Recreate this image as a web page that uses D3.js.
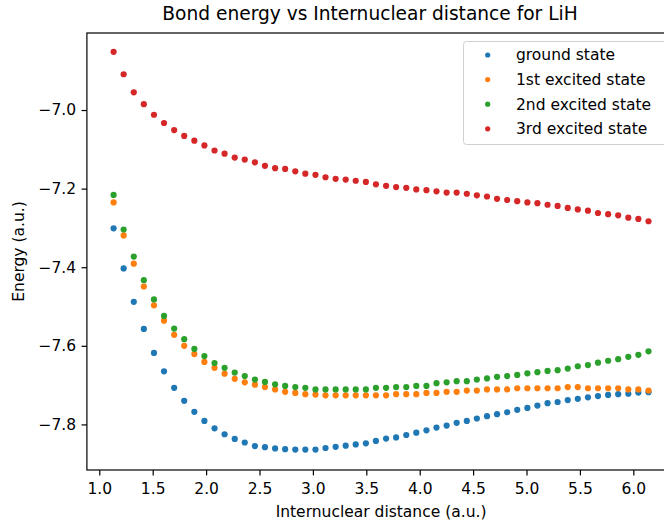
<!DOCTYPE html>
<html>
<head>
    <meta charset="utf-8">
    <title>Bond energy vs Internuclear distance for LiH</title>
    <script src="https://d3js.org/d3.v7.min.js"></script>
    <style>
        body { margin: 0; background: white; }
        svg { display: block; }
        text { font-family: 'DejaVu Sans', sans-serif; fill: #000; }
        .tick text { font-size: 15.5px; }
        .tick line { stroke: #000; stroke-width: 1.2px; }
        .domain { display: none; }
    </style>
</head>
<body>
    <svg width="664" height="526"></svg>
    <script>
        // internuclear distance (a.u.)
        const distance = [1.134, 1.228, 1.323, 1.417, 1.512, 1.606, 1.701, 1.795, 1.890, 1.984,
            2.079, 2.173, 2.268, 2.362, 2.457, 2.551, 2.646, 2.740, 2.835, 2.929,
            3.024, 3.118, 3.213, 3.307, 3.401, 3.496, 3.590, 3.685, 3.779, 3.874,
            3.968, 4.063, 4.157, 4.252, 4.346, 4.441, 4.535, 4.630, 4.724, 4.819,
            4.913, 5.008, 5.102, 5.197, 5.291, 5.386, 5.480, 5.575, 5.669, 5.764,
            5.858, 5.953, 6.047, 6.142];

        const ground = [-7.301, -7.403, -7.488, -7.557, -7.618, -7.665, -7.707, -7.740, -7.768, -7.791,
            -7.810, -7.825, -7.837, -7.846, -7.855, -7.858, -7.861, -7.863, -7.864, -7.864,
            -7.864, -7.860, -7.857, -7.854, -7.851, -7.848, -7.842, -7.836, -7.833, -7.827,
            -7.821, -7.815, -7.808, -7.803, -7.796, -7.791, -7.785, -7.779, -7.774, -7.769,
            -7.763, -7.758, -7.752, -7.746, -7.743, -7.738, -7.735, -7.731, -7.728, -7.725,
            -7.723, -7.722, -7.719, -7.718];

        const excited1 = [-7.235, -7.319, -7.391, -7.449, -7.497, -7.536, -7.572, -7.600, -7.621, -7.641,
            -7.656, -7.671, -7.684, -7.693, -7.699, -7.705, -7.711, -7.717, -7.720, -7.723,
            -7.724, -7.726, -7.726, -7.726, -7.726, -7.726, -7.726, -7.726, -7.723, -7.723,
            -7.723, -7.720, -7.720, -7.717, -7.717, -7.714, -7.714, -7.711, -7.711, -7.711,
            -7.708, -7.708, -7.708, -7.708, -7.708, -7.705, -7.705, -7.708, -7.708, -7.708,
            -7.708, -7.711, -7.711, -7.714];

        const excited2 = [-7.216, -7.304, -7.373, -7.433, -7.482, -7.524, -7.556, -7.583, -7.608, -7.626,
            -7.644, -7.656, -7.668, -7.677, -7.686, -7.692, -7.698, -7.702, -7.705, -7.707,
            -7.711, -7.711, -7.711, -7.711, -7.711, -7.711, -7.707, -7.707, -7.705, -7.705,
            -7.702, -7.702, -7.695, -7.693, -7.690, -7.690, -7.686, -7.683, -7.679, -7.677,
            -7.674, -7.670, -7.667, -7.664, -7.662, -7.658, -7.652, -7.649, -7.643, -7.638,
            -7.634, -7.628, -7.623, -7.614];

        const excited3 = [-6.852, -6.909, -6.955, -6.985, -7.012, -7.033, -7.051, -7.066, -7.078, -7.090,
            -7.103, -7.111, -7.121, -7.126, -7.133, -7.142, -7.148, -7.150, -7.156, -7.162,
            -7.165, -7.171, -7.175, -7.177, -7.180, -7.183, -7.189, -7.193, -7.196, -7.198,
            -7.202, -7.204, -7.207, -7.210, -7.210, -7.213, -7.217, -7.220, -7.226, -7.229,
            -7.232, -7.235, -7.237, -7.241, -7.244, -7.249, -7.253, -7.256, -7.262, -7.265,
            -7.268, -7.274, -7.277, -7.283];

        const seriesNames = ["ground state", "1st excited state", "2nd excited state", "3rd excited state"];
        const seriesValues = [ground, excited1, excited2, excited3];
        const colors = ["#1f77b4", "#ff7f0e", "#2ca02c", "#d62728"];
        const xTicks = [1.0, 1.5, 2.0, 2.5, 3.0, 3.5, 4.0, 4.5, 5.0, 5.5, 6.0];
        const yTicks = [-7.0, -7.2, -7.4, -7.6, -7.8];

        const svg = d3.select("svg");
        const plot = { left: 86.9, right: 675.2, top: 33, bottom: 470 };

        const x = d3.scaleLinear().domain([0.884, 6.392]).range([plot.left, plot.right]);
        const y = d3.scaleLinear().domain([-7.916, -6.804]).range([plot.bottom, plot.top]);

        const minus = s => s.replace("-", "\u2212");

        // axes
        svg.append("g")
            .attr("transform", `translate(0,${plot.bottom})`)
            .call(d3.axisBottom(x).tickValues(xTicks).tickFormat(d3.format(".1f"))
                .tickSize(5.4).tickPadding(5))
            .selectAll("text").attr("dy", "0.9em");

        svg.append("g")
            .attr("transform", `translate(${plot.left},0)`)
            .call(d3.axisLeft(y).tickValues(yTicks).tickFormat(d => minus(d3.format(".1f")(d)))
                .tickSize(5.4).tickPadding(5.4));

        // points
        seriesValues.forEach((vals, s) => {
            svg.append("g")
                .selectAll("circle")
                .data(vals)
                .enter().append("circle")
                .attr("cx", (d, i) => x(distance[i]))
                .attr("cy", d => y(d))
                .attr("r", 3.1)
                .attr("fill", colors[s]);
        });

        // frame
        svg.append("rect")
            .attr("x", plot.left)
            .attr("y", plot.top)
            .attr("width", plot.right - plot.left)
            .attr("height", plot.bottom - plot.top)
            .attr("fill", "none")
            .attr("stroke", "#000")
            .attr("stroke-width", 1.2);

        // legend
        const legend = svg.append("g");
        legend.append("rect")
            .attr("x", 463.5).attr("y", 41.5)
            .attr("width", 208).attr("height", 103)
            .attr("rx", 3)
            .attr("fill", "white").attr("fill-opacity", 0.8)
            .attr("stroke", "#d0d0d0").attr("stroke-width", 1);
        seriesNames.forEach((name, i) => {
            const cy = 55 + i * 24.6;
            legend.append("circle")
                .attr("cx", 487.7).attr("cy", cy).attr("r", 2.6)
                .attr("fill", colors[i]);
            legend.append("text")
                .attr("x", 516).attr("y", cy)
                .attr("dy", "0.35em")
                .style("font-size", "15.5px")
                .text(name);
        });

        // title and axis labels
        svg.append("text")
            .attr("x", 370).attr("y", 20)
            .attr("text-anchor", "middle")
            .style("font-size", "18.6px")
            .text("Bond energy vs Internuclear distance for LiH");

        svg.append("text")
            .attr("x", (plot.left + plot.right) / 2).attr("y", 517)
            .attr("text-anchor", "middle")
            .style("font-size", "15.5px")
            .text("Internuclear distance (a.u.)");

        svg.append("text")
            .attr("transform", `translate(24,${(plot.top + plot.bottom) / 2}) rotate(-90)`)
            .attr("text-anchor", "middle")
            .style("font-size", "15.5px")
            .text("Energy (a.u.)");
    </script>
</body>
</html>
